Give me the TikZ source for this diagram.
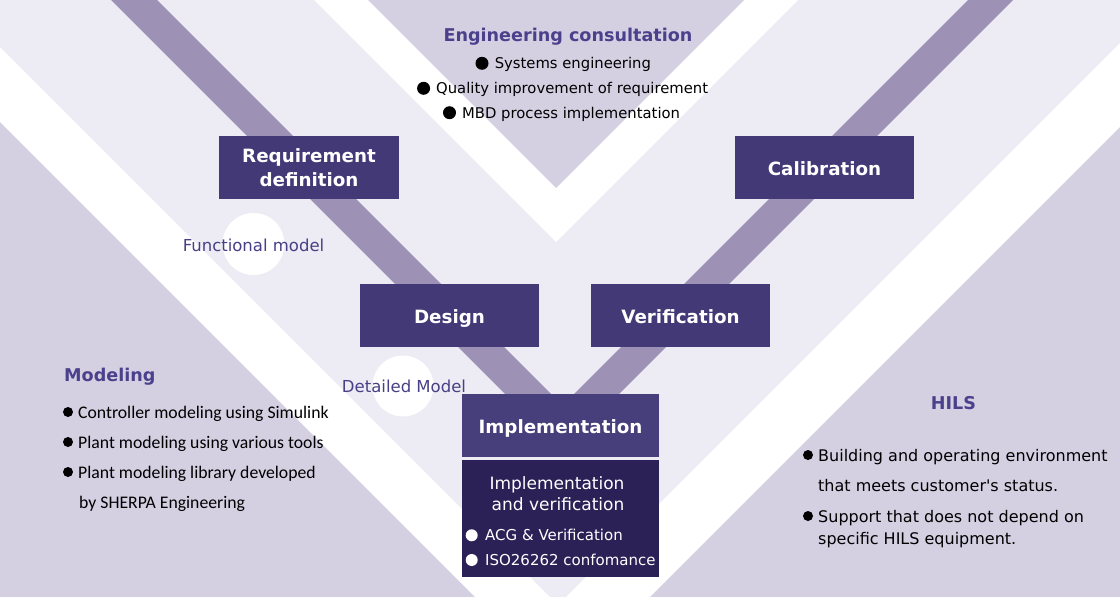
\documentclass[tikz,border=0pt]{standalone}
\usepackage{fontspec}
\setmainfont{DejaVu Sans}
\newfontfamily\carl{Carlito}
\newfontfamily\plainfont{DejaVu Sans}[Ligatures=TeXOff]
\definecolor{bglight}{RGB}{237,235,243}
\definecolor{bgdark}{RGB}{212,208,226}
\definecolor{stripec}{RGB}{157,146,181}
\definecolor{boxc}{RGB}{66,57,118}
\definecolor{implc}{RGB}{71,62,124}
\definecolor{implv}{RGB}{43,33,86}
\definecolor{headc}{RGB}{75,64,140}
\definecolor{lblc}{RGB}{72,64,134}
\begin{document}
\begin{tikzpicture}[x=1pt,y=-1pt,
  stagebox/.style={fill=boxc,text=white,inner sep=0pt,minimum width=179pt,minimum height=63pt,
    align=center,font=\fontsize{18.3pt}{24.4pt}\selectfont\bfseries},
  singlebox/.style={stagebox,text height=16.4pt,text depth=0pt},
  txt/.style={inner sep=0pt,anchor=base west},
  head/.style={inner sep=0pt,anchor=base,text=headc,font=\fontsize{17.6pt}{21pt}\selectfont\bfseries},
  engtxt/.style={txt,font=\fontsize{14.8pt}{18pt}\selectfont},
  modtxt/.style={txt,font=\carl\fontsize{17.7pt}{21pt}\selectfont},
  hilstxt/.style={txt,font=\plainfont\fontsize{16pt}{19pt}\selectfont},
  ivtxt/.style={txt,text=white,font=\fontsize{15pt}{18pt}\selectfont},
  modellbl/.style={inner sep=0pt,anchor=base,text=lblc,font=\fontsize{16.5pt}{20pt}\selectfont}]
\useasboundingbox (0,0) rectangle (1120,597);
% background
\fill[bglight] (0,0) rectangle (1120,597);
\fill[white] (314,0) -- (556,242) -- (798,0) -- cycle;
\fill[bgdark] (368,0) -- (556,188) -- (744,0) -- cycle;
\fill[white] (0,47) -- (550,597) -- (0,597) -- cycle;
\fill[bgdark] (0,122) -- (475,597) -- (0,597) -- cycle;
\fill[white] (1120,43) -- (566,597) -- (1120,597) -- cycle;
\fill[bgdark] (1120,127) -- (650,597) -- (1120,597) -- cycle;
% V stripe
\fill[stripec] (111,0) -- (562,451) -- (1013,0) -- (968,0) -- (562.5,405.5) -- (157,0) -- cycle;
% circles
\fill[white] (253.5,244) circle (31pt);
\fill[white] (403,386) circle (30.5pt);
% stage boxes
\node[stagebox,minimum width=180pt] (req) at (309,167.5) {Requirement\\definition};
\node[singlebox] (cal) at (824.5,167.5) {Calibration};
\node[singlebox] (des) at (449.5,315.5) {Design};
\node[singlebox] (ver) at (680.5,315.5) {Verification};
\node[singlebox,fill=implc,minimum width=197pt] (imp) at (560.5,425.5) {Implementation};
\node[fill=implv,inner sep=0pt,minimum width=197pt,minimum height=117pt] (iv) at (560.5,518.5) {};
\node[inner sep=0pt,anchor=base,text=white,font=\fontsize{17pt}{20pt}\selectfont] (iv1) at (557,489) {Implementation};
\node[inner sep=0pt,anchor=base,text=white,font=\fontsize{17pt}{20pt}\selectfont] (iv2) at (558,510.7) {and verification};
\fill[white] (471.7,535.3) circle (6pt);
\node[ivtxt] (iv3) at (485,540.7) {ACG \& Verification};
\fill[white] (471.7,560) circle (6pt);
\node[ivtxt] (iv4) at (485,565.3) {ISO26262 confomance};
% model labels
\node[modellbl] (fm) at (253.5,251.5) {Functional model};
\node[modellbl] (dm) at (404,392.5) {Detailed Model};
% engineering consultation
\node[head] (eng) at (568,41) {Engineering consultation};
\fill[black] (482,63.3) circle (6.5pt);
\node[engtxt] (eng1) at (494.6,68.7) {Systems engineering};
\fill[black] (423.6,88.3) circle (6.5pt);
\node[engtxt] (eng2) at (436,93.7) {Quality improvement of requirement};
\fill[black] (449.5,112.7) circle (6.5pt);
\node[engtxt] (eng3) at (462,118.1) {MBD process implementation};
% modeling
\node[head,anchor=base west] (mod) at (64,381.5) {Modeling};
\fill[black] (68,412) circle (5pt);
\node[modtxt] (mod1) at (78,418) {Controller modeling using Simulink};
\fill[black] (68,442) circle (5pt);
\node[modtxt] (mod2) at (78,448) {Plant modeling using various tools};
\fill[black] (68,472) circle (5pt);
\node[modtxt] (mod3) at (78,478) {Plant modeling library developed};
\node[modtxt] (mod4) at (79,508) {by SHERPA Engineering};
% HILS
\node[head] (hils) at (953.5,409) {HILS};
\fill[black] (808,455) circle (5pt);
\node[hilstxt] (hils1) at (818,461.5) {Building and operating environment};
\node[hilstxt] (hils2) at (818,491.5) {that meets customer's status.};
\fill[black] (808,516) circle (5pt);
\node[hilstxt] (hils3) at (818,522.5) {Support that does not depend on};
\node[hilstxt] (hils4) at (818,544) {specific HILS equipment.};
\end{tikzpicture}
\end{document}
